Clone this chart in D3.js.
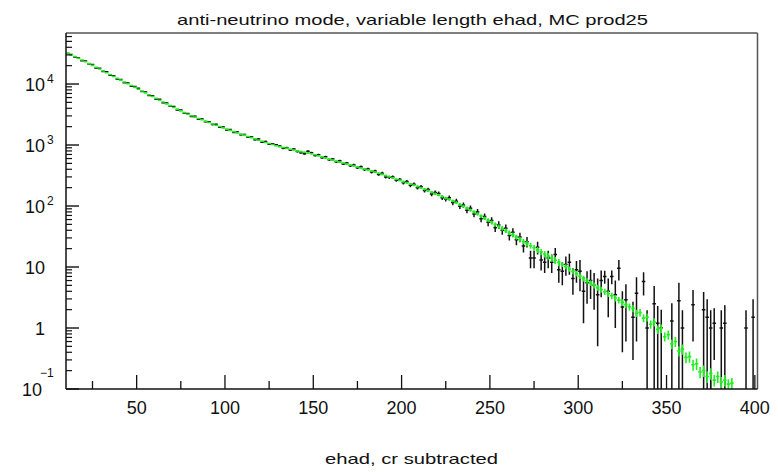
<!DOCTYPE html>
<html>
<head>
<meta charset="utf-8">
<script src="https://cdn.jsdelivr.net/npm/d3@7"></script>
<style>
  body { margin: 0; background: #fff; }
  svg { display: block; }
  text { font-family: "Liberation Sans", Arial, Helvetica, sans-serif; fill: #111; }
</style>
</head>
<body>
<svg id="chart" width="778" height="472"></svg>
<script>
// Histogram bins (ehad, 2-unit bins)
const binCenters = [
  11,13,15,17,19,21,23,25,27,29,31,33,35,37,39,41,43,45,47,49,
  51,53,55,57,59,61,63,65,67,69,71,73,75,77,79,81,83,85,87,89,
  91,93,95,97,99,101,103,105,107,109,111,113,115,117,119,121,123,125,127,129,
  131,133,135,137,139,141,143,145,147,149,151,153,155,157,159,161,163,165,167,169,
  171,173,175,177,179,181,183,185,187,189,191,193,195,197,199,201,203,205,207,209,
  211,213,215,217,219,221,223,225,227,229,231,233,235,237,239,241,243,245,247,249,
  251,253,255,257,259,261,263,265,267,269,271,273,275,277,279,281,283,285,287,289,
  291,293,295,297,299,301,303,305,307,309,311,313,315,317,319,321,323,325,327,329,
  331,333,335,337,339,341,343,345,347,349,351,353,355,357,359,361,363,365,367,369,
  371,373,375,377,379,381,383,385,387,389,391,393,395,397,399
];
const binWidth = 2;

// MC prediction (green)
const mcValues = [
  32100,30100,28200,26400,24800,23200,21600,20200,18800,17600,16400,15300,14300,13300,12400,11600,10800,10100,9440,8810,
  8220,7670,7160,6680,6240,5820,5430,5070,4730,4420,4130,3870,3630,3400,3190,3010,2860,2720,2590,2460,
  2340,2220,2110,2010,1910,1820,1740,1660,1580,1510,1450,1380,1320,1260,1200,1150,1100,1060,1020,975,
  940,910,881,853,826,802,780,759,738,718,693,665,638,612,587,565,545,525,506,488,
  470,453,437,421,406,390,374,359,344,330,316,302,288,275,263,251,240,229,219,209,
  199,188,178,168,159,151,143,135,128,121,114,106,98.9,92.3,86.1,80.0,74.0,68.4,63.2,58.5,
  54.1,50.0,46.2,42.8,39.5,36.5,33.6,30.9,28.4,26.2,24.2,22.3,20.7,19.1,17.7,16.3,15.1,14.0,12.9,11.9,
  11.0,10.1,9.25,8.47,7.76,7.10,6.50,5.96,5.46,5.00,4.60,4.26,3.94,3.64,3.37,3.10,2.86,2.63,2.42,2.23,
  2.1,1.75,1.8,1.45,1.5,1.15,1.25,0.95,0.98,0.72,0.78,0.55,0.6,0.42,0.45,0.33,0.34,0.25,0.26,0.19,
  0.2,0.16,0.18,0.14,0.16,0.13,0.14,0.12,0.125,0,0,0,0,0,0
];
const mcErrors = [
  110,105,100,97,94,91,88,85,82,79,77,74,72,69,67,65,62,60,58,56,
  54,52,50,49,47,45,44,42,41,40,38,37,36,35,34,33,32,31,30,29,
  28,28,27,26,26,25,25,24,24,23,23,22,22,21,21,20,20,20,19,19,
  18,18,18,17,17,17,16,16,16,16,15,15,15,15,14,14,14,13,13,13,
  13,13,12,12,12,12,11,11,11,11,10,10,10,10,9.5,9.3,9.1,8.9,8.6,8.4,
  8.2,8.0,7.8,7.5,7.3,7.1,6.9,6.7,6.5,6.3,6.1,5.8,5.6,5.4,5.2,5.0,4.8,4.6,4.4,4.2,
  4.0,3.9,3.7,3.5,3.4,3.2,3.1,2.9,2.8,2.7,2.5,2.4,2.3,2.2,2.1,2.0,1.9,1.8,1.7,1.6,
  1.0,0.95,0.9,0.85,0.8,0.75,0.7,0.65,0.6,0.56,0.52,0.49,0.46,0.43,0.4,0.37,0.35,0.33,0.31,0.29,
  0.28,0.24,0.25,0.21,0.22,0.18,0.19,0.15,0.16,0.12,0.13,0.1,0.11,0.08,0.085,0.065,0.07,0.05,0.055,0.04,
  0.042,0.035,0.038,0.03,0.034,0.027,0.03,0.025,0.026,0,0,0,0,0,0
];

// Data, cosmic-ray subtracted (black)
const dataValues = [
  31500,30600,27600,26900,24100,23900,21200,20900,18300,18100,16100,15900,13900,13700,12100,11900,10500,10400,9180,9090,
  8520,7510,7390,6490,6420,5650,5600,4930,4880,4300,4270,3760,3740,3310,3300,2930,2950,2640,2680,2400,
  2410,2160,2180,1950,1980,1770,1790,1610,1640,1470,1490,1340,1370,1220,1250,1110,1140,1030,1050,1010,
  965,885,905,830,860,780,745,720,790,745,675,690,620,640,575,590,530,550,490,505,
  455,470,425,440,395,405,360,375,330,345,300,295,300,265,272,240,252,218,228,200,
  207,180,186,158,166,160,137,130,136,114,120,99,104,85,92,74,80,62,67,54,
  58,44,49,40,43,33,37,28,31,22,26,14,14,21,13,12,14,12,16,9,
  8.5,11,12,6.5,9,8.5,4,5.5,6,5,3.5,6,7,4,7,3.5,9.5,2.2,2.9,0,
  1.5,3.7,0,5.8,1,0,2.5,1.2,1,0,0,1.3,0,2.8,1,0,0,2.4,0,0,
  2,1.5,1,1.2,0,1,1.2,0,0,0,0,0,1,0,1.5
];
const dataErrors = [
  178,175,166,164,155,155,146,145,135,135,127,126,118,117,110,109,102,102,96,95,
  92,87,86,81,80,75,75,70,70,66,65,61,61,58,57,54,54,51,52,49,
  49,46,47,44,44,42,42,40,40,38,39,37,37,35,35,33,34,32,32,32,
  31,30,30,29,29,28,27,27,28,27,26,26,25,25,24,24,23,23,22,22,
  21,22,21,21,20,20,19,19,18,19,17,17,17,16,16,15,16,15,15,14,
  14,13,14,13,13,13,12,11,12,11,11,10,10,9.2,9.6,8.6,9.0,7.9,8.2,7.4,
  7.6,6.6,7.0,6.3,6.6,5.7,6.1,5.3,5.6,4.7,5.1,4.5,4.5,5,4.2,4,4.5,4,4.5,3.5,
  3.5,3.8,4.5,3,3.5,4.5,2.8,3,3,3,3,2.8,1.7,2.5,1.8,2.5,3.5,1.8,2.3,0,
  1.2,3.1,0,2.4,0.95,0,2.4,1.1,1,0,0,1.25,0,2.7,0.95,0,0,1.8,0,0,
  1.9,1.45,0.95,0.9,0,0.95,1.15,0,0,0,0,0,0.95,0,1.45
];

// Axes
const xRange = [10, 401.5];
const yRange = [0.1, 68600];
const xMajorTicks = [50, 100, 150, 200, 250, 300, 350, 400];
const xMinorTicks = [25, 75, 125, 175, 225, 275, 325, 375];
const yDecades = [0.1, 1, 10, 100, 1000, 10000];
const yLabelBase = ["10", "1", "10", "10", "10", "10"];
const yLabelExp = ["\u22121", "", "", "2", "3", "4"];

const titleText = "anti-neutrino mode, variable length ehad, MC prod25";
const xTitleText = "ehad, cr subtracted";

const svg = d3.select("#chart");
const plot = { left: 66, right: 757.5, top: 33, bottom: 389 };

const x = d3.scaleLinear().domain(xRange).range([plot.left, plot.right]);
const y = d3.scaleLog().domain(yRange).range([plot.bottom, plot.top]);

svg.append("rect").attr("width", 778).attr("height", 472).attr("fill", "#fff");

svg.append("defs").append("clipPath").attr("id", "plotClip")
  .append("rect")
  .attr("x", plot.left).attr("y", plot.top)
  .attr("width", plot.right - plot.left).attr("height", plot.bottom - plot.top);

const bins = binCenters.map((c, i) => ({
  c, mc: mcValues[i], mcErr: mcErrors[i], d: dataValues[i], dErr: dataErrors[i]
}));

const floorY = v => y(Math.max(v, yRange[0] * 0.5));

// Error-bar histogram: a bin-wide bar at the value plus a vertical error bar
function drawErrors(g, rows, valueKey, errKey, color, width) {
  const shown = rows.filter(r => r[valueKey] > 0);
  g.selectAll("line.h").data(shown).join("line")
    .attr("class", "h")
    .attr("x1", r => x(r.c - binWidth / 2))
    .attr("x2", r => x(r.c + binWidth / 2))
    .attr("y1", r => y(r[valueKey]))
    .attr("y2", r => y(r[valueKey]))
    .attr("stroke", color).attr("stroke-width", width);
  g.selectAll("line.v").data(shown.filter(r => r[errKey] > 0)).join("line")
    .attr("class", "v")
    .attr("x1", r => x(r.c)).attr("x2", r => x(r.c))
    .attr("y1", r => floorY(r[valueKey] - r[errKey]))
    .attr("y2", r => y(r[valueKey] + r[errKey]))
    .attr("stroke", color).attr("stroke-width", width);
}

const marks = svg.append("g").attr("clip-path", "url(#plotClip)");
drawErrors(marks.append("g"), bins, "d", "dErr", "#111", 1.5);
drawErrors(marks.append("g"), bins, "mc", "mcErr", "#1ef01e", 1.6);

// Frame
const frame = svg.append("g");
frame.append("line").attr("x1", plot.left).attr("x2", plot.right)
  .attr("y1", plot.top).attr("y2", plot.top).attr("stroke", "#555").attr("stroke-width", 1.5);
frame.append("line").attr("x1", plot.right).attr("x2", plot.right)
  .attr("y1", plot.top).attr("y2", plot.bottom).attr("stroke", "#555").attr("stroke-width", 1.5);
frame.append("line").attr("x1", plot.left).attr("x2", plot.right)
  .attr("y1", plot.bottom).attr("y2", plot.bottom).attr("stroke", "#111").attr("stroke-width", 1.5);
frame.append("line").attr("x1", plot.left).attr("x2", plot.left)
  .attr("y1", plot.top).attr("y2", plot.bottom).attr("stroke", "#111").attr("stroke-width", 1.5);

// X axis ticks and labels
const xAxis = svg.append("g");
xAxis.selectAll("line.maj").data(xMajorTicks).join("line")
  .attr("x1", d => x(d)).attr("x2", d => x(d))
  .attr("y1", plot.bottom).attr("y2", plot.bottom - 14)
  .attr("stroke", "#111").attr("stroke-width", 1.3);
xAxis.selectAll("line.min").data(xMinorTicks).join("line")
  .attr("x1", d => x(d)).attr("x2", d => x(d))
  .attr("y1", plot.bottom).attr("y2", plot.bottom - 8)
  .attr("stroke", "#111").attr("stroke-width", 1.3);
xAxis.selectAll("text").data(xMajorTicks).join("text")
  .attr("x", d => x(d)).attr("y", 414)
  .attr("text-anchor", "middle").attr("font-size", 18)
  .text(d => d);

// Y axis (log) ticks and labels
const yAxis = svg.append("g");
const yMinor = [];
yDecades.forEach(dec => { for (let k = 2; k <= 9; k++) { const v = dec * k; if (v <= yRange[1]) yMinor.push(v); } });
yAxis.selectAll("line.min").data(yMinor).join("line")
  .attr("x1", plot.left).attr("x2", plot.left + 6)
  .attr("y1", d => y(d)).attr("y2", d => y(d))
  .attr("stroke", "#111").attr("stroke-width", 1.2);
yAxis.selectAll("line.maj").data(yDecades).join("line")
  .attr("x1", plot.left).attr("x2", plot.left + 13)
  .attr("y1", d => y(d)).attr("y2", d => y(d))
  .attr("stroke", "#111").attr("stroke-width", 1.4);

yDecades.forEach((dec, i) => {
  const ty = y(dec);
  const exp = yLabelExp[i];
  const negative = exp.startsWith("\u2212");
  const baseEnd = negative ? 42 : 45;
  yAxis.append("text")
    .attr("x", baseEnd).attr("y", ty + 6.5)
    .attr("text-anchor", "end").attr("font-size", 18)
    .text(yLabelBase[i]);
  if (exp) {
    yAxis.append("text")
      .attr("x", negative ? 40 : 47).attr("y", negative ? ty - 12 : ty - 1)
      .attr("font-size", 12)
      .text(exp);
  }
});

// Titles
svg.append("text")
  .attr("x", 177).attr("y", 25)
  .attr("font-size", 15)
  .attr("textLength", 471).attr("lengthAdjust", "spacingAndGlyphs")
  .text(titleText);
svg.append("text")
  .attr("x", 325).attr("y", 464)
  .attr("font-size", 15)
  .attr("textLength", 173).attr("lengthAdjust", "spacingAndGlyphs")
  .text(xTitleText);
</script>
</body>
</html>
